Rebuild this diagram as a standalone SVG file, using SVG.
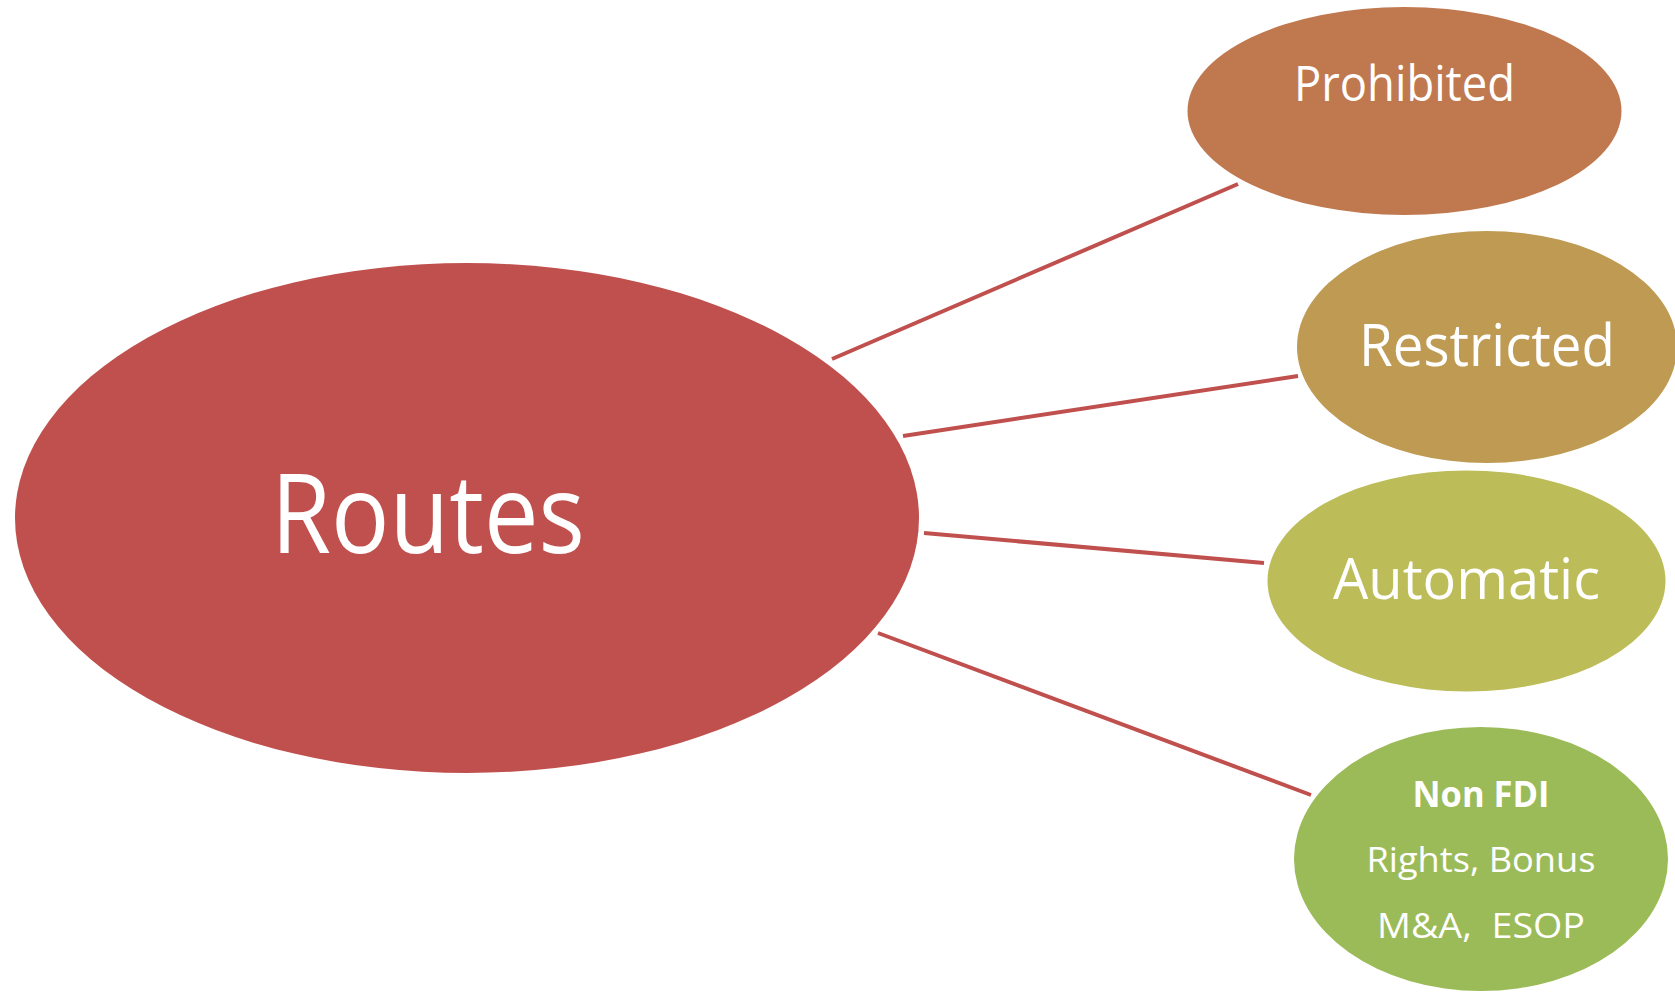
<svg xmlns="http://www.w3.org/2000/svg" width="1675" height="993" viewBox="0 0 1675 993">
  <style>
    .lbl { font-family: "Open Sans", "Liberation Sans", sans-serif; fill: #FFFFFF; text-anchor: middle; }
    .link { stroke: #C0504D; stroke-width: 4; fill: none; }
  </style>
  <rect width="1675" height="993" fill="#FFFFFF"/>

  <!-- connectors -->
  <g id="connectors">
    <line class="link" x1="832" y1="359" x2="1238" y2="184"/>
    <line class="link" x1="903" y1="436" x2="1298" y2="376"/>
    <line class="link" x1="924" y1="533" x2="1264" y2="563"/>
    <line class="link" x1="878" y1="633" x2="1311" y2="795"/>
  </g>

  <g id="routes">
    <ellipse cx="467" cy="518" rx="452" ry="255" fill="#C0504D"/>
    <text class="lbl" x="428" y="553" font-size="109" textLength="314" lengthAdjust="spacingAndGlyphs">Routes</text>
  </g>

  <g id="prohibited">
    <ellipse cx="1404.5" cy="111" rx="217" ry="104" fill="#C0784F"/>
    <text class="lbl" x="1404.5" y="101" font-size="49" textLength="221" lengthAdjust="spacingAndGlyphs">Prohibited</text>
  </g>

  <g id="restricted">
    <ellipse cx="1487" cy="347" rx="190" ry="116" fill="#BE9A52"/>
    <text class="lbl" x="1487" y="366" font-size="58" textLength="256" lengthAdjust="spacingAndGlyphs">Restricted</text>
  </g>

  <g id="automatic">
    <ellipse cx="1466.5" cy="581" rx="199" ry="110.5" fill="#BCBC58"/>
    <text class="lbl" x="1466.5" y="599" font-size="57" textLength="267" lengthAdjust="spacingAndGlyphs">Automatic</text>
  </g>

  <g id="non-fdi">
    <ellipse cx="1481" cy="859" rx="187" ry="132" fill="#9BBB59"/>
    <text class="lbl" x="1481" y="807" font-size="35" font-weight="bold" textLength="137" lengthAdjust="spacingAndGlyphs">Non FDI</text>
    <text class="lbl" x="1481" y="872" font-size="35" textLength="229" lengthAdjust="spacingAndGlyphs">Rights, Bonus</text>
    <text class="lbl" x="1481" y="938" font-size="35" textLength="208" lengthAdjust="spacingAndGlyphs" xml:space="preserve">M&amp;A,  ESOP</text>
  </g>
</svg>
